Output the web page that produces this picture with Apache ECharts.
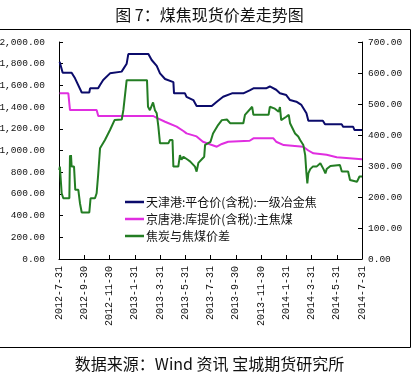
<!DOCTYPE html>
<html><head><meta charset="utf-8">
<script src="https://cdn.jsdelivr.net/npm/echarts@6/dist/echarts.min.js"></script>
<style>html,body{margin:0;padding:0;background:#fff}#c{width:419px;height:378px}</style>
</head><body><div id="c"></div>
<script>
// x positions are months after 2012-7-31
const xTickLabels = ['2012-7-31','2012-9-30','2012-11-30','2013-1-31','2013-3-31','2013-5-31','2013-7-31','2013-9-30','2013-11-30','2014-1-31','2014-3-31','2014-5-31','2014-7-31'];
const seriesNames = ['天津港:平仓价(含税):一级冶金焦','京唐港:库提价(含税):主焦煤','焦炭与焦煤价差'];

const tianjinMonths = [0.05,0.29,1.0,1.27,1.8,2.4,2.46,3.1,3.25,3.5,4.04,4.96,5.36,5.49,7.08,7.34,7.74,8.0,8.4,9.06,9.11,9.98,10.1,10.64,10.9,12.1,12.5,13.0,13.7,14.6,15.1,15.4,16.4,16.7,17.2,17.5,18.0,18.3,18.8,19.2,19.6,19.75,20.9,21.07,22.4,22.5,23.3,23.4,24];
const tianjinPrices = [1818,1717,1717,1665,1535,1535,1573,1573,1604,1650,1711,1727,1800,1889,1889,1834,1780,1711,1659,1630,1527,1527,1495,1465,1410,1410,1450,1495,1527,1527,1555,1573,1573,1590,1560,1527,1511,1465,1450,1420,1343,1275,1275,1241,1241,1219,1219,1189,1189];

const jingtangMonths = [0.05,0.74,0.87,2.98,3.11,7.47,7.74,8.4,9.32,9.85,10.1,10.9,11.4,12.0,12.5,12.9,13.4,15.1,15.4,16.98,17.2,17.8,19.35,19.75,20.15,21.2,22.0,24];
const jingtangPrices = [1527,1527,1373,1373,1318,1318,1300,1265,1220,1180,1158,1130,1081,1055,1035,1060,1081,1090,1112,1112,1081,1050,1035,1000,974,960,937,920];

const spreadMonths = [0.02,0.07,0.21,0.34,0.82,0.87,0.92,0.95,1.0,1.19,1.29,1.53,1.66,1.8,2.4,2.5,2.85,2.98,3.1,3.25,3.64,4.04,4.4,4.97,5.1,5.36,6.97,7.05,7.2,7.45,7.6,7.74,7.87,8.0,8.66,8.79,8.99,9.06,9.45,9.58,9.7,9.85,10.2,10.4,10.77,10.9,11.04,11.5,11.57,12.0,12.2,12.6,12.9,13.3,13.55,14.6,14.73,15.3,15.4,16.6,16.7,17.1,17.4,17.5,17.6,18.0,18.2,18.3,18.7,18.95,19.1,19.35,19.5,19.6,19.67,19.75,19.9,20.1,20.4,20.7,20.95,21.1,21.2,21.5,22.25,22.4,22.9,23.05,23.6,23.8,24];
const spreadValues = [287,298,212,196,196,335,320,335,298,298,223,223,180,150,150,196,196,212,271,357,384,416,448,450,481,577,577,491,480,505,480,470,427,373,373,384,384,298,298,335,320,330,320,314,298,282,310,330,368,378,405,432,448,450,438,438,465,491,465,465,491,485,475,490,448,459,465,438,405,395,384,368,335,276,244,276,290,298,298,309,290,276,290,300,303,282,282,255,249,266,266];

function zip(xs, ys){ return xs.map((x,i)=>[x, ys[i]]); }
function fmtThousands(v){
  const s = v.toFixed(2); const parts = s.split('.');
  parts[0] = parts[0].replace(/\B(?=(\d{3})+(?!\d))/g, ',');
  return parts.join('.');
}
const xFont = {fontFamily:'Liberation Mono', fontSize:10, color:'#111'};
const yFont = {fontFamily:'Liberation Mono', fontSize:9.5, color:'#111'};
const chart = echarts.init(document.getElementById('c'), null, {renderer:'canvas'});
chart.setOption({
  animation:false,
  backgroundColor:'#fff',
  title:{text:'图 7：煤焦现货价差走势图', left:'center', top:2,
    textStyle:{fontFamily:'Noto Sans CJK SC', fontSize:16, fontWeight:'normal', color:'#111'}},
  graphic:[
    {type:'rect', shape:{x:-1, y:29.5, width:411.5, height:318}, style:{fill:'none', stroke:'#000', lineWidth:1}, silent:true},
    {type:'text', left:'center', top:356, style:{text:'数据来源：Wind 资讯 宝城期货研究所', font:'16px "Noto Sans CJK SC"', fill:'#111'}}
  ],
  legend:{orient:'vertical', left:120, top:191, icon:'rect', itemWidth:19, itemHeight:2.5, itemGap:5,
    textStyle:{fontFamily:'Noto Sans CJK SC', fontSize:12, color:'#111', padding:[0,0,0,-3]},
    data:seriesNames},
  grid:{left:59, right:57, top:42, bottom:119, outerBoundsMode:'none', containLabel:false},
  xAxis:{type:'value', min:0, max:24, interval:2,
    axisLine:{lineStyle:{color:'#000', width:1}},
    axisTick:{inside:true, length:4, lineStyle:{color:'#000'}},
    splitLine:{show:false},
    axisLabel:Object.assign({rotate:90, margin:7, showMinLabel:true, showMaxLabel:true,
      formatter:v=>xTickLabels[Math.round(v/2)]}, xFont)},
  yAxis:[
    {type:'value', min:0, max:2000, interval:200, position:'left',
      axisLine:{show:true, lineStyle:{color:'#000'}},
      axisTick:{show:true, inside:true, length:4, lineStyle:{color:'#000'}},
      splitLine:{show:false},
      axisLabel:Object.assign({margin:14, formatter:fmtThousands}, yFont)},
    {type:'value', min:0, max:700, interval:100, position:'right',
      axisLine:{show:true, lineStyle:{color:'#000'}},
      axisTick:{show:true, inside:true, length:4, lineStyle:{color:'#000'}},
      splitLine:{show:false},
      axisLabel:Object.assign({margin:6, formatter:v=>v.toFixed(2)}, yFont)}
  ],
  series:[
    {name:seriesNames[0], type:'line', yAxisIndex:0, symbol:'none', data:zip(tianjinMonths, tianjinPrices),
      lineStyle:{color:'#0b0b6b', width:2}, itemStyle:{color:'#0b0b6b'}},
    {name:seriesNames[1], type:'line', yAxisIndex:0, symbol:'none', data:zip(jingtangMonths, jingtangPrices),
      lineStyle:{color:'#e02ee0', width:2}, itemStyle:{color:'#e02ee0'}},
    {name:seriesNames[2], type:'line', yAxisIndex:1, symbol:'none', data:zip(spreadMonths, spreadValues),
      lineStyle:{color:'#237d23', width:2}, itemStyle:{color:'#237d23'}}
  ]
});
</script></body></html>
